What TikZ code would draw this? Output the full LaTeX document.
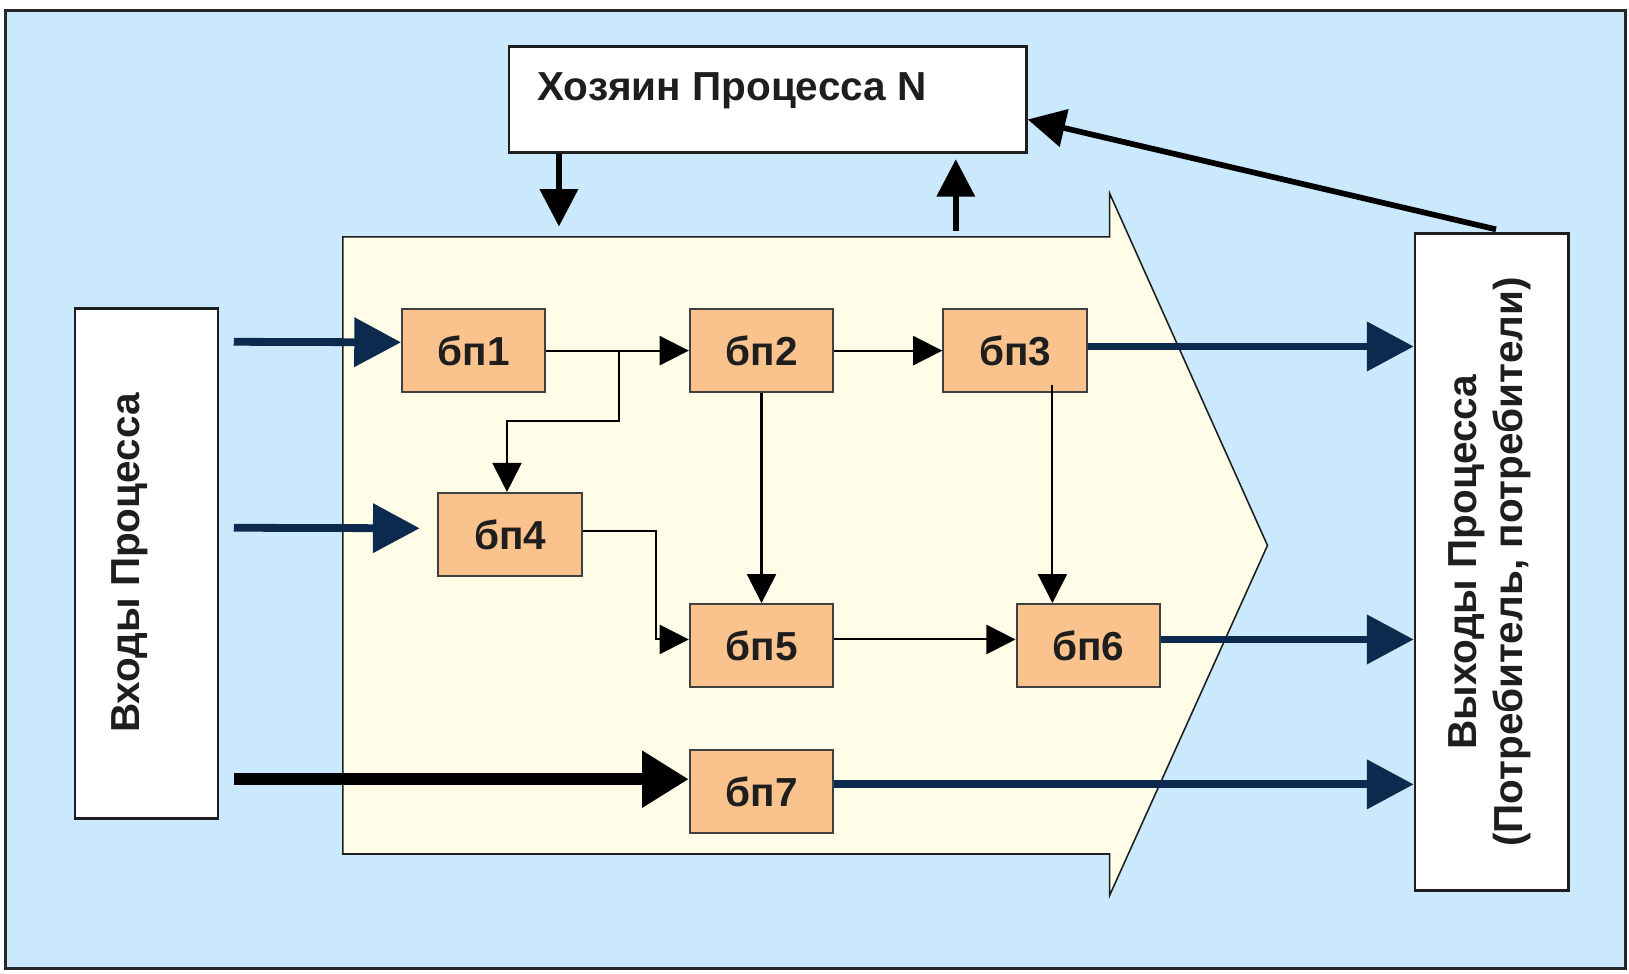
\documentclass[tikz,border=0pt]{standalone}
\usepackage{fontspec}
\setmainfont{Liberation Sans}
\usetikzlibrary{arrows.meta}
\definecolor{bgblue}{HTML}{CBE9FC}
\definecolor{cream}{HTML}{FFFDE8}
\definecolor{peach}{HTML}{FAC38E}
\definecolor{navy}{HTML}{0B2A4E}
\definecolor{ink}{HTML}{1E1E1E}
\begin{document}
\begin{tikzpicture}[x=1pt,y=-1pt,
  bp/.style={draw=ink!85, line width=2pt, fill=peach, minimum width=138pt, minimum height=80pt, inner sep=0pt, font=\fontsize{39}{44}\selectfont\bfseries, text=ink},
  wbox/.style={draw=ink, line width=2.5pt, fill=white, inner sep=0pt},
  lbl/.style={font=\fontsize{39}{45}\selectfont\bfseries, text=ink, inner sep=0pt},
  thinarr/.style={line width=2pt, draw=black, -{Triangle[length=28pt,width=28pt]}},
  fatarr/.style={line width=7.5pt, draw=navy, color=navy, -{Triangle[length=45pt,width=46pt]}},
  blkarr/.style={line width=12pt, draw=black, -{Triangle[length=45pt,width=52pt]}},
  midarr/.style={line width=5.5pt, draw=black, -{Triangle[length=36pt,width=36pt]}}
]
\useasboundingbox (0,0) rectangle (1568,937);
\draw[fill=bgblue, draw=black!85, line width=3pt] (5,10) rectangle (1565,932);

% big process arrow
\draw[fill=cream, draw=ink, line width=1.5pt] (330,228) -- (1068,228) -- (1068,186) -- (1220,525) -- (1068,862) -- (1068,822) -- (330,822) -- cycle;

% owner
\node[wbox, minimum width=498pt, minimum height=102pt] (owner) at (739,96) {};
\node[lbl, anchor=west] (ownerlbl) at (517,87) {Хозяин Процесса N};

% inputs / outputs
\node[wbox, minimum width=138pt, minimum height=491pt] (inbox) at (141,542.5) {};
\node[lbl, rotate=90] (inlbl) at (125,542) {Входы Процесса};
\node[wbox, minimum width=148pt, minimum height=632pt] (outbox) at (1436,541) {};
\node[lbl, rotate=90, align=center] (outlbl) at (1434,541) {Выходы Процесса\\(Потребитель, потребители)};

% process blocks
\node[bp] (b1) at (456,337.5) {бп1};
\node[bp] (b2) at (733,337.5) {бп2};
\node[bp] (b3) at (977,337.5) {бп3};
\node[bp] (b4) at (491,514.5) {бп4};
\node[bp] (b5) at (733,621.5) {бп5};
\node[bp] (b6) at (1047.5,621.5) {бп6};
\node[bp] (b7) at (733,762) {бп7};

% coordinates
\coordinate (in1) at (225,329);
\coordinate (in2) at (225,508);
\coordinate (in3) at (225,750);
\coordinate (d1) at (538,218);
\coordinate (u1) at (920,222);
\coordinate (j1) at (596,337.5);
\coordinate (j2) at (631,514.5);

% owner arrows
\draw[midarr] (owner.south -| d1) -- (d1);
\draw[midarr] (u1) -- ([yshift=-5pt]owner.south -| u1);
\draw[midarr] ([xshift=4pt,yshift=3pt]outbox.north) -- ([yshift=-19pt]owner.east);

% input arrows
\draw[fatarr] (in1) -- ([yshift=8pt]b1.west);
\draw[fatarr] (in2) -- ([xshift=-17pt,yshift=6pt]b4.west);
\draw[blkarr] (in3) -- ([yshift=12pt]b7.west);

% internal flow
\draw[thinarr] (b1.east) -- (b2.west);
\draw[thinarr] (j1) -- (596,405) -| ([xshift=-3pt]b4.north);
\draw[thinarr] (b2.east) -- (b3.west);
\draw[thinarr] (b2.south) -- (b5.north);
\draw[thinarr] ([xshift=36pt,yshift=8pt]b3.south) -- ([xshift=-34.5pt]b6.north);
\draw[thinarr] ([yshift=3pt]b4.east) -- ([yshift=3pt]j2) |- ([yshift=6pt]b5.west);
\draw[thinarr] ([yshift=6pt]b5.east) -- ([yshift=6pt]b6.west);

% outputs
\draw[fatarr] ([yshift=4pt]b3.east) -- ([yshift=4pt]b3.east -| outbox.west);
\draw[fatarr] ([yshift=6pt]b6.east) -- ([yshift=6pt]b6.east -| outbox.west);
\draw[fatarr] ([yshift=7pt]b7.east) -- ([yshift=7pt]b7.east -| outbox.west);
\end{tikzpicture}
\end{document}
